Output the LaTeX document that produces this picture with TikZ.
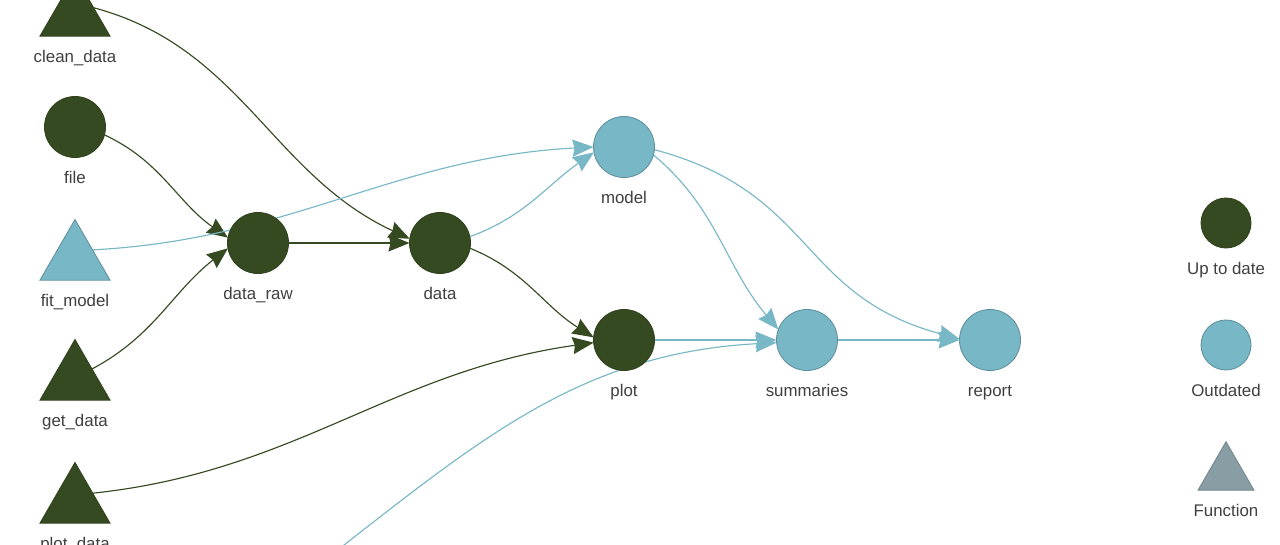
\documentclass[tikz,border=0pt]{standalone}
\usepackage{fontspec}
\setmainfont{Liberation Sans}
\usetikzlibrary{arrows.meta,shapes.geometric,backgrounds}
\definecolor{uptodate}{HTML}{354A21}
\definecolor{outdated}{HTML}{78B7C5}
\definecolor{funcgray}{HTML}{899DA4}
\definecolor{labeltext}{HTML}{3F3F3F}
\tikzset{
    target/.style={circle, minimum size=1.22cm, inner sep=0pt, outer sep=0pt},
    func/.style={regular polygon, regular polygon sides=3, minimum size=1.62cm, inner sep=0pt, outer sep=0pt},
    fresh/.style={fill=uptodate, draw=uptodate!90!black, line width=0.5pt},
    stale/.style={fill=outdated, draw=outdated!80!black, line width=0.5pt},
    every label/.style={text=labeltext, font=\fontsize{9.6}{11}\selectfont, inner sep=0pt, text height=0.24cm, text depth=0.06cm},
    label distance=0.28cm,
    dep/.style={-{Stealth[length=0.42cm, width=0.34cm, inset=0.04cm]}, line width=0.65pt},
}
\begin{document}
\begin{tikzpicture}[x=0.02cm, y=0.02cm]
    \useasboundingbox (0,0) rectangle (1280,544);
    \clip (0,0) rectangle (1280,544);
    \node[func, fresh, label=below:clean\_data] (cleandata) at (75,528) {};
    \node[target, fresh, label=below:file] (file) at (75,417) {};
    \node[func, stale, label=below:fit\_model] (fitmodel) at (75,284) {};
    \node[func, fresh, label=below:get\_data] (getdata) at (75,164) {};
    \node[func, fresh, label=below:plot\_data] (plotdata) at (75,41) {};
    \node[target, fresh, label=below:data\_raw] (dataraw) at (258,301) {};
    \node[target, fresh, label=below:data] (data) at (440,301) {};
    \node[target, stale, label=below:model] (model) at (624,397) {};
    \node[target, fresh, label=below:plot] (plt) at (624,204) {};
    \node[target, stale, label=below:summaries] (summaries) at (807,204) {};
    \node[target, stale, label=below:report] (report) at (990,204) {};
    \coordinate (offpage) at (330,-12);
    \node[target, fresh, minimum size=1cm, label=below:Up to date] (keyup) at (1226,321) {};
    \node[target, stale, minimum size=1cm, label=below:Outdated] (keyout) at (1226,199) {};
    \node[func, fill=funcgray, draw=funcgray!85!black, line width=0.5pt, minimum size=1.29cm, label=below:Function] (keyfun) at (1226,70) {};
    \begin{scope}[on background layer]
        \draw[dep, uptodate] (cleandata.24) to[out=-15, in=155] (data.172);
        \draw[dep, uptodate] (file.-15) to[out=-25, in=145] (dataraw.170);
        \draw[dep, outdated] (fitmodel.30) to[out=3, in=183] (model.180);
        \draw[dep, uptodate] (getdata.33) to[out=28, in=218] (dataraw.190);
        \draw[dep, uptodate] (dataraw) -- (data);
        \draw[dep, outdated] (data.12) to[out=20, in=215] (model.190);
        \draw[dep, uptodate] (data.-10) to[out=-22, in=148] (plt.175);
        \draw[dep, uptodate] (plotdata.29) to[out=6, in=188] (plt.185);
        \draw[dep, outdated] (offpage) to[out=38, in=183] (summaries.185);
        \draw[dep, outdated] (plt) -- (summaries);
        \draw[dep, outdated] (model.-15) to[out=-40, in=130] (summaries.160);
        \draw[dep, outdated] (model.-5) to[out=-15, in=165, looseness=1.2] (report.178);
        \draw[dep, outdated] (summaries) -- (report);
    \end{scope}
\end{tikzpicture}
\end{document}
